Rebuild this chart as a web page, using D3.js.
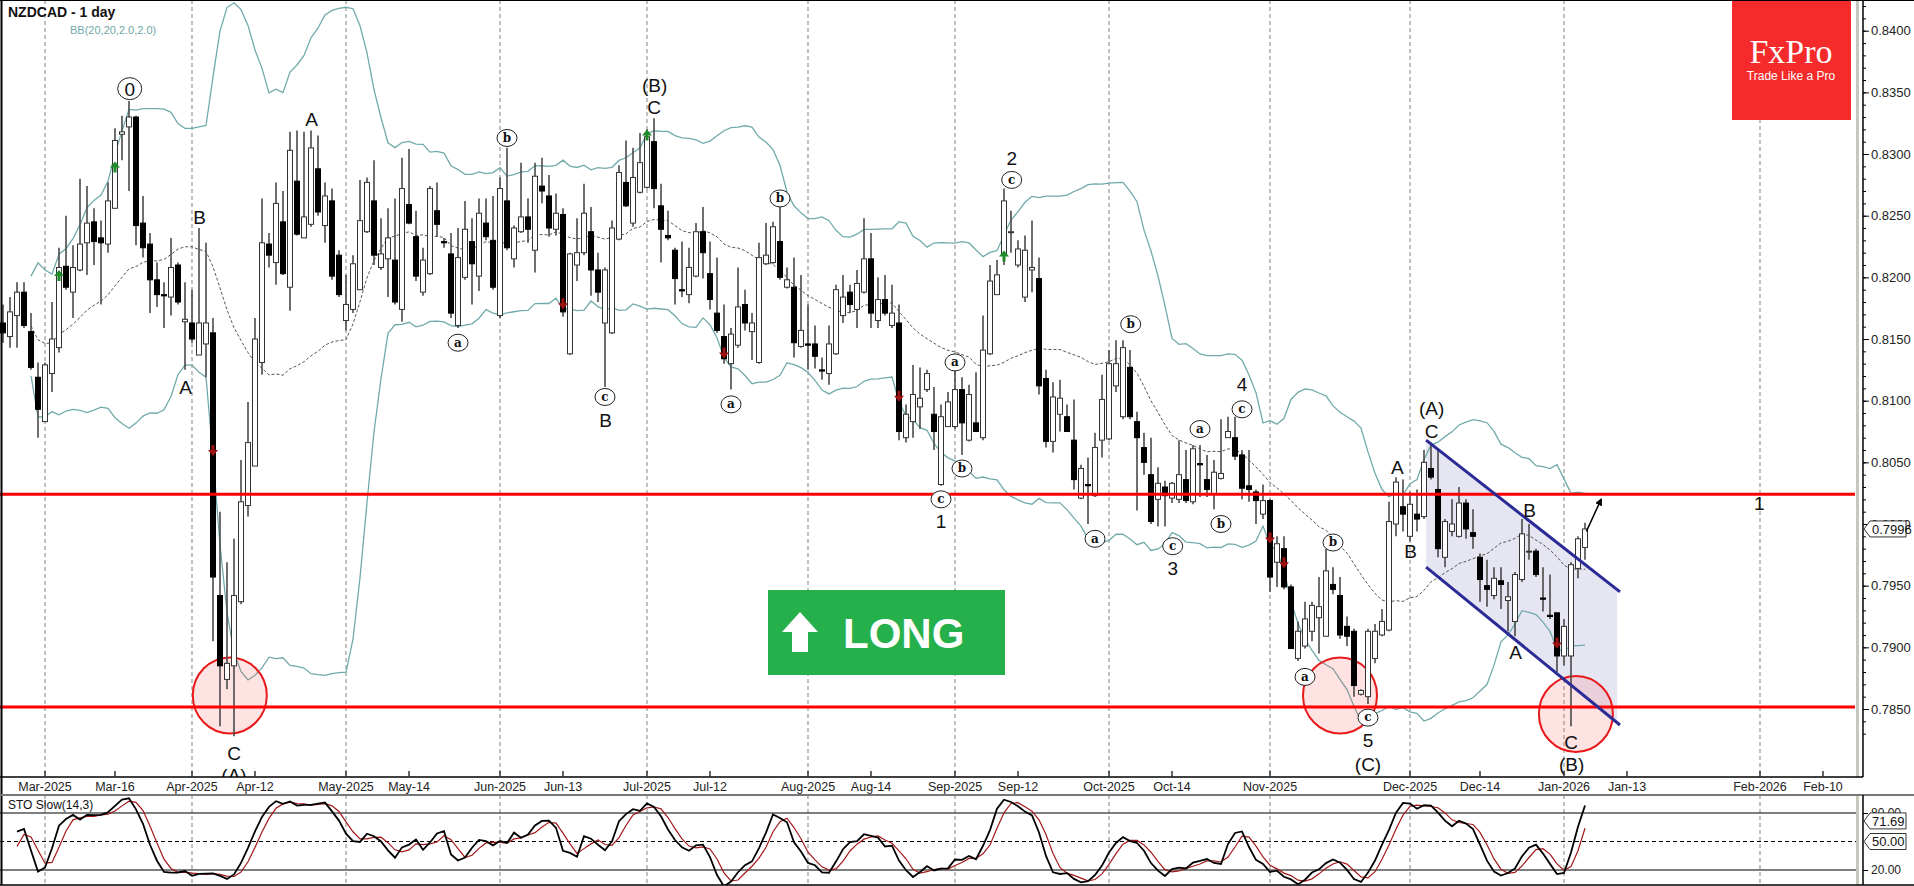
<!DOCTYPE html>
<html lang="en">
<head>
<meta charset="UTF-8">
<title>NZDCAD - 1 day</title>
<script src="https://d3js.org/d3.v7.min.js"></script>
<style>
  body { margin: 0; background: #fff; }
  svg { display: block; font-family: "Liberation Sans", Arial, sans-serif; }
</style>
</head>
<body>
<svg width="1914" height="886"></svg>
<script>
// daily candles, prices in 1e-4 units (8163 = 0.8163)
const opens = [8163,8152,8169,8188,8156,8119,8083,8122,8143,8209,8188,8206,8228,8245,8232,8227,8256,8316,8322,8330,8244,8227,8198,8186,8184,8210,8164,8163,8137,8146,
8155,7942,7874,7885,7937,8015,8047,8131,8227,8212,8245,8192,8278,8232,8243,8288,8242,8262,8218,8165,8174,8190,8237,8262,8208,8215,8214,8174,8259,8233,
8188,8203,8254,8229,8219,8161,8200,8229,8201,8244,8230,8169,8262,8215,8237,8249,8222,8274,8266,8239,8251,8138,8210,8220,8237,8206,8163,8155,8231,8277,
8244,8269,8273,8310,8258,8234,8222,8190,8186,8201,8237,8203,8171,8152,8130,8145,8178,8156,8131,8211,8212,8229,8192,8192,8144,8146,8146,8125,8122,8138,
8169,8188,8174,8188,8215,8165,8182,8161,8163,8070,8083,8095,8109,8089,8032,8079,8079,8109,8068,8082,8070,8138,8186,8218,8237,8210,8184,8206,8199,8118,
8067,8089,8087,8068,8021,8032,8023,8068,8069,8112,8087,8127,8083,8062,8040,8020,8030,8021,8020,8036,8018,8049,8036,8024,8037,8070,8070,8056,8031,8026,
8008,8019,7969,7980,7949,7891,7901,7913,7924,7909,7951,7942,7917,7913,7862,7860,7891,7910,7914,8000,8014,7990,8008,8006,8045,8028,7973,7994,7990,8017,
7993,7973,7950,7942,7954,7938,7921,7955,7978,7978,7940,7926,7928,7893,7893,7964,7981];
const highs = [8178,8184,8196,8196,8171,8131,8131,8180,8224,8250,8226,8280,8274,8256,8246,8277,8321,8331,8343,8331,8266,8236,8212,8196,8232,8212,8196,8190,8240,8228,
8167,8010,7969,7988,8052,8099,8167,8264,8236,8277,8270,8318,8319,8318,8319,8315,8277,8272,8222,8202,8218,8279,8281,8295,8248,8256,8264,8297,8304,8254,
8224,8274,8277,8232,8236,8240,8262,8248,8264,8264,8266,8281,8305,8242,8293,8264,8293,8297,8283,8268,8256,8220,8248,8276,8257,8220,8208,8246,8291,8311,
8305,8317,8320,8329,8276,8254,8224,8229,8224,8244,8257,8229,8216,8178,8159,8208,8190,8171,8228,8244,8245,8257,8208,8216,8202,8178,8161,8135,8161,8194,
8202,8194,8206,8248,8236,8200,8202,8194,8178,8097,8129,8127,8125,8111,8097,8107,8127,8119,8113,8123,8169,8210,8214,8272,8254,8230,8234,8246,8216,8125,
8115,8117,8097,8101,8048,8054,8074,8121,8141,8149,8149,8141,8091,8074,8070,8046,8035,8034,8068,8060,8064,8064,8056,8052,8085,8087,8087,8060,8060,8028,
8032,8020,7990,7990,7951,7921,7937,7937,7957,7980,7965,7957,7925,7915,7866,7915,7919,7931,8018,8038,8036,8026,8028,8060,8066,8060,8004,8020,8030,8020,
8012,7976,7971,7965,7965,7953,7961,8004,8000,7980,7965,7959,7928,7923,7969,7990,8001];
const lows = [8147,8143,8143,8159,8125,8070,8083,8107,8139,8190,8167,8205,8202,8210,8178,8220,8256,8295,8270,8226,8216,8171,8176,8159,8169,8178,8125,8147,8137,8119,
7905,7836,7866,7828,7935,8006,8047,8121,8208,8194,8202,8173,8234,8232,8241,8250,8228,8198,8184,8157,8171,8190,8236,8210,8206,8184,8178,8164,8243,8197,
8185,8202,8233,8224,8167,8159,8198,8178,8189,8230,8190,8167,8222,8208,8236,8228,8204,8260,8233,8234,8168,8137,8197,8218,8185,8180,8111,8154,8230,8257,
8241,8268,8272,8256,8212,8230,8178,8184,8179,8200,8199,8174,8155,8130,8109,8143,8157,8133,8130,8210,8211,8198,8191,8135,8143,8125,8126,8117,8113,8137,
8163,8171,8159,8187,8159,8159,8169,8159,8068,8066,8070,8077,8107,8060,8031,8079,8077,8056,8067,8075,8068,8137,8186,8210,8220,8208,8180,8188,8105,8062,
8058,8075,8075,8028,8020,8000,8022,8054,8068,8107,8085,8085,8011,8040,8000,7998,7998,8017,8017,8017,8016,8022,8022,8012,8036,8070,8052,8020,8018,8000,
8004,7945,7949,7947,7899,7889,7899,7905,7895,7909,7943,7907,7901,7860,7861,7854,7887,7909,7913,7990,7994,7986,7994,8004,8036,7973,7965,7990,7989,7988,
7980,7937,7933,7939,7931,7913,7909,7953,7971,7957,7929,7923,7880,7885,7836,7956,7971];
const closes = [8155,8172,8188,8161,8127,8093,8129,8150,8208,8192,8208,8227,8244,8229,8228,8262,8311,8318,8330,8242,8224,8198,8186,8185,8208,8180,8166,8150,8163,8163,
7957,7885,7887,7942,8018,8066,8150,8228,8218,8260,8203,8303,8235,8249,8305,8253,8266,8201,8186,8178,8211,8246,8277,8218,8219,8232,8180,8272,8244,8201,
8214,8272,8243,8228,8171,8216,8239,8211,8252,8233,8192,8272,8224,8240,8249,8239,8282,8270,8240,8252,8172,8219,8220,8252,8206,8188,8206,8240,8285,8258,
8281,8293,8314,8272,8239,8232,8199,8189,8208,8237,8220,8182,8157,8134,8154,8176,8163,8163,8216,8218,8241,8200,8198,8147,8157,8145,8136,8124,8146,8190,
8184,8178,8195,8215,8171,8182,8171,8171,8075,8089,8105,8102,8122,8075,8087,8099,8109,8082,8105,8075,8141,8197,8202,8262,8237,8223,8222,8208,8112,8067,
8103,8102,8075,8036,8045,8031,8062,8101,8130,8130,8143,8087,8070,8050,8002,8033,8023,8033,8040,8019,8061,8048,8028,8042,8041,8075,8055,8029,8028,8019,
8019,7957,7984,7949,7899,7913,7923,7934,7933,7962,7947,7910,7909,7869,7865,7913,7913,7921,8002,8034,8008,8016,8004,8050,8038,7980,8002,8000,8017,7996,
7990,7955,7947,7956,7951,7941,7959,7992,7978,7959,7939,7925,7893,7917,7967,7988,7996];

// date axis: label and bar index
const dateTicks = [["Mar-2025",6],["Mar-16",16],["Apr-2025",27],["Apr-12",36],["May-2025",49],["May-14",58],
  ["Jun-2025",71],["Jun-13",80],["Jul-2025",92],["Jul-12",101],["Aug-2025",115],["Aug-14",124],["Sep-2025",136],
  ["Sep-12",145],["Oct-2025",158],["Oct-14",167],["Nov-2025",181],["Dec-2025",201],["Dec-14",211],
  ["Jan-2026",223],["Jan-13",232],["Feb-2026",251],["Feb-10",260]];
const priceTicks = [0.7850,0.7900,0.7950,0.8000,0.8050,0.8100,0.8150,0.8200,0.8250,0.8300,0.8350,0.8400];
const levels = [0.80242, 0.78516];
const lastPrice = 0.7996;
const stoLast = 71.69;

// wave labels: [bar index, price, text, circled]
const waves = [[18.1,.8353,"0",2],[28.1,.8249,"B"],[26.1,.8111,"A"],[44.1,.8328,"A"],[33,.7814,"C"],[33,.7796,"(A)"],
  [65,.8147,"a",1],[72,.8313,"b",1],[93.1,.8356,"(B)"],[93,.8338,"C"],[86,.8103,"c",1],[86.1,.8084,"B"],
  [111,.8264,"b",1],[104,.8097,"a",1],[136,.8131,"a",1],[137,.8045,"b",1],[134,.8020,"c",1],[134,.8002,"1"],
  [144.1,.8297,"2"],[144.1,.8279,"c",1],[161.1,.8162,"b",1],[156,.7988,"a",1],[167.1,.7982,"c",1],[167.1,.7964,"3"],
  [171,.8077,"a",1],[174,.8000,"b",1],[177,.8113,"4"],[177,.8093,"c",1],[190,.7985,"b",1],[186,.7876,"a",1],
  [195,.7843,"c",1],[195,.7825,"5"],[195,.7805,"(C)"],[199.2,.8046,"A"],[201.1,.7978,"B"],[204.1,.8094,"(A)"],
  [204.1,.8075,"C"],[218.1,.8011,"B"],[216.1,.7896,"A"],[224,.7823,"C"],[224.1,.7805,"(B)"],[250.9,.8017,"1"]];
const buySignals = [[8,.8201],[16,.8289],[92,.8315],[143,.8217]];
const sellSignals = [[30,.8060],[80,.8179],[103,.8139],[128,.8104],[181,.7989],[183,.7969],[222,.7904]];
const circles = [[32.4,.7861],[191,.7861],[224.7,.7846]];
// channel: [index, price] pairs
const chanUpper = [[203.3,.8068],[231,.7945]];
const chanLower = [[203.3,.7965],[231,.7837]];
const chanEdge = [230.6, .7947, .7839];
const trendArrow = [[226.2,.7994],[228.3,.8020]];

const candles = opens.map((o, i) => ({i, o: o/1e4, h: highs[i]/1e4, l: lows[i]/1e4, c: closes[i]/1e4}));

const svg = d3.select("svg");
const plotR = 1856, plotB = 777, stoT = 795, stoB = 885;
const x = d3.scaleLinear().domain([0, 265]).range([3, 1858]);
const y = d3.scaleLinear().domain([0.7850, 0.8400]).range([709.0, 30.7]);
const ys = d3.scaleLinear().domain([0, 100]).range([889, 794]);

const defs = svg.append("defs");
defs.append("clipPath").attr("id", "main").append("rect").attr("x", 0).attr("y", 0).attr("width", plotR).attr("height", plotB);
defs.append("clipPath").attr("id", "sto").append("rect").attr("x", 0).attr("y", stoT + 1).attr("width", plotR).attr("height", stoB - stoT - 1);
defs.append("marker").attr("id", "ah").attr("viewBox", "0 0 10 10").attr("refX", 8).attr("refY", 5)
  .attr("markerWidth", 5).attr("markerHeight", 5).attr("orient", "auto")
  .append("path").attr("d", "M0,0L10,5L0,10z").attr("fill", "#000");

// month gridlines
const months = dateTicks.filter(d => /-\d{4}$/.test(d[0]));
[[0, plotB], [stoT, stoB]].forEach(([a, b]) => {
  svg.append("g").selectAll("line").data(months).join("line")
    .attr("x1", d => x(d[1])).attr("x2", d => x(d[1])).attr("y1", a).attr("y2", b)
    .attr("stroke", "#999").attr("stroke-dasharray", "4,3").attr("stroke-width", 1.2);
});

const main = svg.append("g").attr("clip-path", "url(#main)");

// channel fill
const chanPoly = [chanUpper[0], [chanEdge[0], chanEdge[1]], [chanEdge[0], chanEdge[2]], chanLower[0]];
main.append("path").attr("d", d3.line().x(d => x(d[0])).y(d => y(d[1]))(chanPoly) + "Z")
  .attr("fill", "#e6e6f3");

// Bollinger bands
const bb = candles.map((d, i) => {
  if (i < 4) return null;
  const w = closes.slice(Math.max(0, i - 19), i + 1).map(v => v / 1e4);
  const m = d3.mean(w), s = Math.sqrt(d3.mean(w.map(v => (v - m) ** 2)));
  return {i, m, u: m + 2 * s, lo: m - 2 * s};
}).filter(Boolean);
const bline = k => d3.line().x(d => x(d.i)).y(d => y(d[k]));
main.append("path").attr("d", bline("u")(bb)).attr("fill", "none").attr("stroke", "#72aaab").attr("stroke-width", 1.3);
main.append("path").attr("d", bline("lo")(bb)).attr("fill", "none").attr("stroke", "#72aaab").attr("stroke-width", 1.3);
main.append("path").attr("d", bline("m")(bb)).attr("fill", "none").attr("stroke", "#555").attr("stroke-width", 1).attr("stroke-dasharray", "3,2");

// red circles
main.selectAll("ellipse.zone").data(circles).join("ellipse")
  .attr("cx", d => x(d[0])).attr("cy", d => y(d[1])).attr("rx", 37).attr("ry", 38)
  .attr("fill", "rgba(255,80,80,0.16)").attr("stroke", "#e8191a").attr("stroke-width", 2);

// candles
const cg = main.append("g");
cg.selectAll("line").data(candles).join("line")
  .attr("x1", d => x(d.i)).attr("x2", d => x(d.i)).attr("y1", d => y(d.h)).attr("y2", d => y(d.l))
  .attr("stroke", "#4a4a4a").attr("stroke-width", 1.6);
cg.selectAll("rect").data(candles).join("rect")
  .attr("x", d => x(d.i) - 2.5).attr("width", 5)
  .attr("y", d => y(Math.max(d.o, d.c)))
  .attr("height", d => Math.max(1, Math.abs(y(d.o) - y(d.c))))
  .attr("fill", d => d.c >= d.o ? "#fff" : "#000")
  .attr("stroke", d => d.c >= d.o ? "#333" : "#000").attr("stroke-width", 1);

// signals
main.selectAll("path.buy").data(buySignals).join("path")
  .attr("d", d => { const cx = x(d[0]), cy = y(d[1]); return `M${cx},${cy - 6}L${cx - 5},${cy}L${cx - 1.5},${cy}L${cx - 1.5},${cy + 5}L${cx + 1.5},${cy + 5}L${cx + 1.5},${cy}L${cx + 5},${cy}Z`; })
  .attr("fill", "#1e8a2a");
main.selectAll("path.sell").data(sellSignals).join("path")
  .attr("d", d => { const cx = x(d[0]), cy = y(d[1]); return `M${cx},${cy + 6}L${cx - 5},${cy}L${cx - 1.5},${cy}L${cx - 1.5},${cy - 5}L${cx + 1.5},${cy - 5}L${cx + 1.5},${cy}L${cx + 5},${cy}Z`; })
  .attr("fill", "#9b1010");

// levels
main.selectAll("line.lvl").data(levels).join("line")
  .attr("x1", 0).attr("x2", plotR - 1).attr("y1", d => y(d)).attr("y2", d => y(d))
  .attr("stroke", "#ff0000").attr("stroke-width", 3);

// channel lines
[chanUpper, chanLower].forEach(c => main.append("line")
  .attr("x1", x(c[0][0])).attr("y1", y(c[0][1])).attr("x2", x(c[1][0])).attr("y2", y(c[1][1]))
  .attr("stroke", "#2b2b96").attr("stroke-width", 3));

main.append("line").attr("x1", x(trendArrow[0][0])).attr("y1", y(trendArrow[0][1]))
  .attr("x2", x(trendArrow[1][0])).attr("y2", y(trendArrow[1][1]))
  .attr("stroke", "#000").attr("stroke-width", 1.5).attr("marker-end", "url(#ah)");

// wave labels
const wl = main.append("g");
waves.forEach(([i, p, t, c]) => {
  const g = wl.append("g").attr("transform", `translate(${x(i)},${y(p)})`);
  if (c) {
    g.append("ellipse").attr("rx", c === 2 ? 12 : 10).attr("ry", c === 2 ? 11 : 8.5)
      .attr("fill", "#fff").attr("stroke", "#222").attr("stroke-width", 1);
    g.append("text").attr("text-anchor", "middle").attr("dy", c === 2 ? "0.36em" : "0.32em")
      .attr("font-family", c === 2 ? "Liberation Sans" : "DejaVu Serif, Liberation Serif")
      .attr("font-weight", c === 2 ? "normal" : "bold")
      .attr("font-size", c === 2 ? 19 : 12).attr("fill", "#111").text(t);
  } else {
    g.append("text").attr("text-anchor", "middle").attr("dy", "0.36em")
      .attr("font-size", 19).attr("fill", "#111").text(t);
  }
});

// LONG badge
const lg = svg.append("g");
lg.append("rect").attr("x", 768).attr("y", 590).attr("width", 237).attr("height", 85).attr("fill", "#25b04c");
lg.append("path").attr("d", "M800,612L818,632L808,632L808,652L792,652L792,632L782,632Z").attr("fill", "#fff");
lg.append("text").attr("x", 843).attr("y", 648).attr("font-size", 42).attr("font-weight", "bold")
  .attr("fill", "#fff").attr("font-family", "Liberation Sans, Arial").text("LONG");

// FxPro logo
svg.append("rect").attr("x", 1732).attr("y", 0).attr("width", 119).attr("height", 120).attr("fill", "#f52a2a");
svg.append("text").attr("x", 1791).attr("y", 63).attr("text-anchor", "middle").attr("font-size", 34)
  .attr("font-family", "Liberation Serif, serif").attr("fill", "#fff").text("FxPro");
svg.append("text").attr("x", 1791).attr("y", 80).attr("text-anchor", "middle").attr("font-size", 12)
  .attr("fill", "#fff").text("Trade Like a Pro");

// titles
svg.append("text").attr("x", 8).attr("y", 17).attr("font-size", 14).attr("font-weight", "bold").attr("fill", "#111").text("NZDCAD - 1 day");
svg.append("text").attr("x", 70).attr("y", 34).attr("font-size", 11).attr("fill", "#6fa8a8").text("BB(20,20,2.0,2.0)");

// frames and price axis
svg.append("rect").attr("x", 1856).attr("y", 0).attr("width", 3).attr("height", plotB).attr("fill", "#c9c6bb");
svg.append("rect").attr("x", 1856).attr("y", stoT).attr("width", 3).attr("height", stoB - stoT).attr("fill", "#c9c6bb");
svg.append("line").attr("x1", 1.5).attr("x2", 1.5).attr("y1", 0).attr("y2", stoB).attr("stroke", "#000").attr("stroke-width", 2);
svg.append("line").attr("x1", 0).attr("x2", 1914).attr("y1", 0.5).attr("y2", 0.5).attr("stroke", "#000");
svg.append("line").attr("x1", 0).attr("x2", 1863).attr("y1", plotB).attr("y2", plotB).attr("stroke", "#000").attr("stroke-width", 1.5);
svg.append("line").attr("x1", 0).attr("x2", 1914).attr("y1", stoT).attr("y2", stoT).attr("stroke", "#777").attr("stroke-width", 2);
svg.append("line").attr("x1", 0).attr("x2", 1914).attr("y1", stoB).attr("y2", stoB).attr("stroke", "#000").attr("stroke-width", 1.5);
svg.append("line").attr("x1", 1863).attr("x2", 1863).attr("y1", 0).attr("y2", plotB).attr("stroke", "#000").attr("stroke-width", 1.5);
svg.append("line").attr("x1", 1863).attr("x2", 1863).attr("y1", stoT).attr("y2", stoB).attr("stroke", "#000").attr("stroke-width", 1.5);

const yAxis = d3.axisRight(y).tickValues(priceTicks).tickFormat(d3.format(".4f")).tickSize(6).tickPadding(2);
const ya = svg.append("g").attr("transform", "translate(1863,0)").call(yAxis);
ya.select(".domain").remove();
ya.selectAll("text").attr("font-size", 13).attr("fill", "#222").attr("font-family", "Liberation Sans, Arial");
svg.append("g").attr("transform", "translate(1863,0)")
  .call(d3.axisRight(y).tickValues(d3.range(7830, 8430, 10).map(v => v / 1e4)).tickSize(3).tickFormat(""))
  .select(".domain").remove();

// last price tag
const lp = svg.append("g").attr("transform", `translate(1864,${y(lastPrice)})`);
lp.append("path").attr("d", "M0,0L6,-8L42,-8L42,8L6,8Z").attr("fill", "#fff").attr("stroke", "#333");
lp.append("text").attr("x", 8).attr("dy", "0.36em").attr("font-size", 13).attr("fill", "#111").text(d3.format(".4f")(lastPrice));

// date axis
svg.append("g").selectAll("line").data(dateTicks).join("line")
  .attr("x1", d => x(d[1])).attr("x2", d => x(d[1])).attr("y1", plotB - 6).attr("y2", plotB)
  .attr("stroke", "#333").attr("stroke-width", 1.5);
svg.append("g").selectAll("text").data(dateTicks).join("text")
  .attr("x", d => x(d[1])).attr("y", 791).attr("text-anchor", "middle")
  .attr("font-size", 12.5).attr("fill", "#222").text(d => d[0]);

// stochastic slow (14,3)
const rawK = candles.map((d, i) => {
  const w = candles.slice(Math.max(0, i - 13), i + 1);
  const hh = d3.max(w, e => e.h), ll = d3.min(w, e => e.l);
  return hh > ll ? (d.c - ll) / (hh - ll) * 100 : 50;
});
const sma3 = a => a.map((v, i) => d3.mean(a.slice(Math.max(0, i - 2), i + 1)));
const slowK = sma3(rawK), slowD = sma3(slowK);
const sto = svg.append("g").attr("clip-path", "url(#sto)");
[80, 20].forEach(v => sto.append("line").attr("x1", 0).attr("x2", plotR).attr("y1", ys(v)).attr("y2", ys(v)).attr("stroke", "#000").attr("stroke-width", 1.2));
sto.append("line").attr("x1", 0).attr("x2", plotR).attr("y1", ys(50)).attr("y2", ys(50)).attr("stroke", "#000").attr("stroke-dasharray", "4,3");
const sl = d3.line().x((d, i) => x(i + 2)).y(d => ys(d));
sto.append("path").attr("d", sl(slowD.slice(2))).attr("fill", "none").attr("stroke", "#a3191a").attr("stroke-width", 1.2);
sto.append("path").attr("d", sl(slowK.slice(2))).attr("fill", "none").attr("stroke", "#000").attr("stroke-width", 1.8);
svg.append("text").attr("x", 8).attr("y", 809).attr("font-size", 12).attr("fill", "#111").text("STO Slow(14,3)");

const sa = svg.append("g").attr("transform", "translate(1863,0)")
  .call(d3.axisRight(ys).tickValues([80, 20]).tickFormat(d3.format(".2f")).tickSize(5).tickPadding(3));
sa.select(".domain").remove();
sa.selectAll("text").attr("font-size", 12).attr("fill", "#222");
[stoLast, 50].forEach(v => {
  const t = svg.append("g").attr("transform", `translate(1864,${ys(v)})`);
  t.append("path").attr("d", "M0,0L6,-8L42,-8L42,8L6,8Z").attr("fill", "#fff").attr("stroke", "#333");
  t.append("text").attr("x", 8).attr("dy", "0.36em").attr("font-size", 13).attr("fill", "#111").text(d3.format(".2f")(v));
});
</script>
</body>
</html>
